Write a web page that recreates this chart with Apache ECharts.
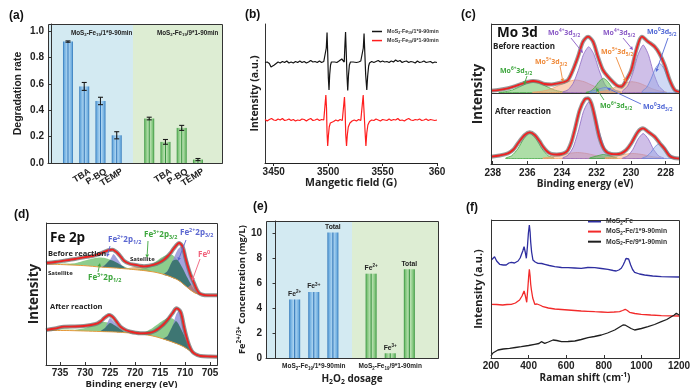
<!DOCTYPE html>
<html><head><meta charset="utf-8">
<script src="https://cdn.jsdelivr.net/npm/echarts@6/dist/echarts.min.js"></script>
<style>html,body{margin:0;padding:0;background:#fff}#c{width:697px;height:388px}</style>
</head><body><div id="c"></div>
<script>
// ================= DATA =================
// (a) degradation rate
const aBlueX = [1, 2, 3, 4];
const aBlueVal = [0.92, 0.58, 0.47, 0.21];
const aBlueErr = [0.005, 0.03, 0.028, 0.027];
const aGreenX = [6, 7, 8, 9];
const aGreenVal = [0.337, 0.16, 0.266, 0.026];
const aGreenErr = [0.01, 0.018, 0.019, 0.008];
const aTickPos = [2, 3, 4, 7, 8, 9];
const aTickLabels = ['TBA', 'P-BQ', 'TEMP', 'TBA', 'P-BQ', 'TEMP'];
const aYTicks = [0, 0.2, 0.4, 0.6, 0.8, 1.0];
const aGroupText = ['MoS_{2}-Fe_{19}/1*9-90min', 'MoS_{2}-Fe_{19}/9*1-90min'];

// (b) EPR spectra [field G, intensity a.u.]
const bBlack = [[3442,100.5],[3444,101],[3446,99.5],[3447.5,96],[3449,95.5],[3450.5,98],[3452,100],[3454,101],[3456,100],[3458,101.5],[3460,100.5],[3462,102],[3464,100],[3466,101],[3468,100],[3470,101.5],[3472,100.5],[3474,102],[3476,100.5],[3478,101.5],[3480,100],[3482,101],[3484,102.5],[3486,101],[3488,101.5],[3490,100.5],[3492,102],[3494,100.5],[3496,101.5],[3497.5,101],[3498.3,115],[3499,130.5],[3499.6,110],[3500.2,85],[3500.8,73],[3501.4,88],[3502.2,98],[3503,101],[3504.5,99.5],[3506,101],[3508,100.5],[3510,102],[3511.5,101],[3512.5,104],[3513.5,102],[3514.8,101],[3515.4,118],[3516,131],[3516.6,112],[3517.3,88],[3518,72.5],[3518.7,88],[3519.5,98],[3520.5,101],[3522,103],[3523,101],[3524.5,102],[3526,100.5],[3528,101],[3530,102],[3531.5,101],[3532.3,115],[3533,129.5],[3533.7,110],[3534.5,88],[3535.5,73],[3536.3,87],[3537.2,97],[3538,100],[3540,101.5],[3542,100.5],[3544,101.5],[3546,102.5],[3548,101],[3550,102],[3552,101],[3554,101.5],[3556,100.5],[3558,102],[3560,101],[3562,103],[3564,101.5],[3566,102.5],[3568,100.5],[3570,101.5],[3572,102],[3574,100.5],[3576,101.5],[3578,101],[3580,100],[3582,102],[3584,100.5],[3586,101],[3588,102],[3590,100.5],[3592,101],[3594,101.5],[3596,100],[3598,101],[3600,100.5]];
const bRed = [[3442,43.5],[3444,42],[3446,43.5],[3448,44.5],[3450,43],[3452,42.5],[3454,44],[3456,43],[3458,44.5],[3460,42.5],[3462,43],[3464,44],[3466,42.5],[3468,43.5],[3470,42],[3472,43],[3474,42.5],[3476,44],[3478,43.5],[3480,42],[3482,43.5],[3484,44.5],[3486,42.5],[3488,43],[3490,44],[3492,42.5],[3494,43.5],[3496,43],[3497.3,45],[3497.9,68],[3498.5,55],[3499,30],[3499.6,17],[3500.3,28],[3501,36],[3502,40],[3503.5,42],[3505,41.5],[3507,43],[3509,42],[3511,43.5],[3513,42.5],[3514.4,43.5],[3515,66],[3515.6,52],[3516.2,28],[3516.9,17],[3517.6,28],[3518.5,36],[3520,40],[3522,42],[3524,43],[3526,42],[3528,43.5],[3530,42.5],[3531.6,44],[3532.2,68],[3532.8,55],[3533.4,54],[3534,30],[3534.7,17],[3535.5,30],[3536.5,38],[3538,41.5],[3540,43],[3542,42.5],[3544,44],[3546,43],[3548,42],[3550,43.5],[3552,43],[3554,42.5],[3556,44],[3558,42.5],[3560,43.5],[3562,43],[3564,44.5],[3566,42.5],[3568,43],[3570,42],[3572,43.5],[3574,44.5],[3576,43],[3578,42.5],[3580,43.5],[3582,43],[3584,44],[3586,42.5],[3588,43],[3590,44],[3592,42.5],[3594,43.5],[3596,43],[3598,42.5],[3600,43]];
const bTicks = [3450, 3500, 3550, 3600];
const bTickLabels = ['3450', '3500', '3550', '360'];
const bLegend = ['MoS_{2}-Fe_{19}/1*9-90min', 'MoS_{2}-Fe_{19}/9*1-90min'];

// (c) Mo 3d XPS [binding energy eV, intensity]
const cTicks = [238, 236, 234, 232, 230, 228];
const cDivider = 71;
const cBaseBefore = 71.5;
const cBaseAfter = 5.5;
const cBeforeRed = [[238.1,73.3],[237.6,74.2],[237.12,75.7],[236.7,77.8],[236.35,80],[236.0,82],[235.67,83],[235.35,82.2],[235.0,80],[234.6,79.5],[234.23,80.7],[233.9,82],[233.65,84],[233.36,94],[233.07,107.3],[232.78,122.3],[232.49,127.3],[232.2,122.3],[231.92,107.3],[231.63,94],[231.34,87.3],[230.86,79],[230.57,77.3],[230.28,84],[229.99,94],[229.7,114],[229.37,127.3],[229.03,122.5],[228.64,117.3],[228.35,110],[228.06,99],[227.77,84],[227.48,74],[227.23,72]];
const cAfterRed = [[238.1,7.3],[237.6,8.5],[237.12,10.7],[236.8,14.5],[236.54,20.7],[236.15,29],[235.86,31.7],[235.57,29],[235.3,23],[235.09,17.3],[234.85,12.5],[234.61,10],[234.3,9.5],[234.03,10],[233.8,11.5],[233.65,14],[233.45,22],[233.26,34],[232.97,54],[232.68,64.7],[232.49,65.7],[232.3,60.7],[232.1,47.3],[231.82,25.7],[231.53,14],[231.14,10],[230.85,9.8],[230.57,10.7],[230.28,14],[229.99,20.7],[229.6,32.3],[229.31,35.7],[229.02,32.3],[228.64,27.3],[228.35,21],[228.06,15],[227.77,8],[227.5,6],[227.23,5.5]];
const cG1b = [[237.65,71.6],[237.25,72.4],[236.85,74.1],[236.45,77.2],[236.05,80.5],[235.65,82],[235.25,80.5],[234.85,77.2],[234.45,74.1],[234.05,72.4],[233.65,71.6]];
const cO1b = [[235.7,71.8],[235.2,72.6],[234.7,74.6],[234.2,78.3],[233.7,82.2],[233.2,84],[232.7,82.2],[232.2,78.3],[231.7,74.6],[231.2,72.6],[230.7,71.8]];
const cP1b = [[233.95,72.0],[233.65,74.1],[233.35,80.6],[233.05,93.8],[232.75,109.7],[232.45,117.3],[232.15,109.7],[231.85,93.8],[231.55,80.6],[231.25,74.1],[230.95,72.0]];
const cG2b = [[232.6,71.7],[232.35,72.9],[232.1,76.6],[231.85,82.5],[231.6,85.7],[231.35,82.5],[231.1,76.6],[230.85,72.9],[230.6,71.7]];
const cB0b = [[232.4,72.2],[231.95,74.5],[231.5,76.5],[231.05,74.5],[230.6,72.2]];
const cO2b = [[231.95,72.0],[231.55,73.0],[231.15,75.0],[230.75,78.1],[230.35,81.0],[229.95,82.3],[229.55,81.0],[229.15,78.1],[228.75,75.0],[228.35,73.0],[227.95,72.0]];
const cP2b = [[230.5,72.9],[230.2,77.9],[229.9,91.0],[229.6,109.5],[229.3,119],[229.0,109.5],[228.7,91.0],[228.4,77.9],[228.1,72.9]];
const cB1b = [[229.35,72.8],[229.1,76.5],[228.85,84.9],[228.6,95.4],[228.35,100.7],[228.1,95.4],[227.85,84.9],[227.6,76.5],[227.35,72.8]];
const cG1a = [[237.25,6.0],[236.9,8.3],[236.55,15.1],[236.2,25.4],[235.85,31.0],[235.5,25.4],[235.15,15.1],[234.8,8.3],[234.45,6.0]];
const cO1a = [[235.1,6.0],[234.6,7.0],[234.1,8.7],[233.6,10.6],[233.1,11.5],[232.6,10.6],[232.1,8.7],[231.6,7.0],[231.1,6.0]];
const cP1a = [[233.95,6.1],[233.65,8.7],[233.35,16.7],[233.05,33.0],[232.75,52.7],[232.45,62],[232.15,52.7],[231.85,33.0],[231.55,16.7],[231.25,8.7],[230.95,6.1]];
const cG2a = [[232.4,6.0],[232.0,7.9],[231.6,9.5],[231.2,7.9],[230.8,6.0]];
const cO2a = [[231.5,6.2],[231.1,7.1],[230.7,8.55],[230.3,9.9],[229.9,10.5],[229.5,9.9],[229.1,8.55],[228.7,7.1],[228.3,6.2]];
const cP2a = [[230.5,5.9],[230.2,8.0],[229.9,14.5],[229.6,24.9],[229.3,30.5],[229.0,24.9],[228.7,14.5],[228.4,8.0],[228.1,5.9]];
const cB1a = [[229.35,6.0],[229.1,7.6],[228.85,11.8],[228.6,17.6],[228.35,20.5],[228.1,17.6],[227.85,11.8],[227.6,7.6],[227.35,6.0]];

// (d) Fe 2p XPS [eV, intensity] ; components [eV, top, bottom]
const dTicks = [735, 730, 725, 720, 715, 710, 705];
const dBeforeRed = [[737.8,102],[736,103],[734.2,104.3],[732,106],[730.2,107.7],[728.5,109],[727.5,110.3],[726.5,112.3],[725.9,113.7],[725.1,115],[724.5,115.3],[724,114],[723.5,112],[722.8,108],[722.2,104.3],[721.2,101.5],[720.2,100.3],[719.2,99.3],[718.2,98.7],[717.2,99.2],[716.2,100.3],[715.2,102.3],[714.2,105.3],[713.5,108.5],[712.9,112],[712.4,115.5],[711.9,118.7],[711.2,122],[710.5,118.7],[709.9,107],[709.4,98],[708.9,90.3],[708.2,82],[707.7,76],[707.2,72],[706.5,70.3],[705.5,69.7],[703.6,69.7]];
const dAfterRed = [[737.8,35],[736,36.5],[734.2,38.3],[732,38.5],[730.2,39],[728.8,40],[727.5,41.7],[726.8,43.8],[726.2,46.7],[725.6,49],[725.2,50],[724.7,49],[724.2,46.7],[723.5,42],[722.9,38.3],[721.9,35],[720.9,33.3],[719.9,32.2],[718.9,31.7],[717.9,31.8],[716.9,32.3],[716,34],[715.2,36.7],[714.3,40.5],[713.5,45],[712.5,51.7],[711.7,56.7],[710.9,53.3],[710.5,46],[710.2,38.3],[709.7,28],[709.2,20],[708.7,14.5],[708.2,11.7],[707.5,9.8],[706.9,9],[705,8.5],[703.6,8.3]];
const dBgBefore = [[737.8,101],[734,100.3],[730,99.3],[727,98],[724,97],[721,95.8],[718,94.3],[716,92.8],[714,90.3],[712,86.5],[711,83.7],[710,79.5],[709,75.3],[708,72],[707,70.5],[705,69.7],[703.6,69.7]];
const dBgAfter = [[737.8,34.5],[734,34.5],[730,34],[727,33.5],[724,33],[721,32],[718,30.5],[716,28.5],[714,25.5],[712,22],[711,20],[710,17.5],[709,14],[708,11],[707,9],[705,8.3],[703.6,8.3]];
const dSat1b = [[737.8,101,101],[736,102,100.7],[734,102.2,100.3],[732,101.2,99.9],[730.5,99.5,99.5]];
const dSat2b = [[722,96.2,96.2],[720,98,95.3],[718,97.5,94.3],[716.5,93.1,93.1]];
const dGLb = [[734,100.3,100.3],[732,101.8,99.9],[730,104.5,99.3],[728,107,98.5],[727,107.5,98],[726,107,97.7],[724.5,104.5,97.2],[723,100.5,96.6],[721.5,97,96],[720.5,95.5,95.5]];
const dPLb = [[727,98,98],[726,100,97.7],[725,105,97.4],[724.3,111,97.2],[723.5,106,96.9],[722.5,99,96.4],[721.5,96,96]];
const dDLb = [[726.5,97.8,97.8],[726,100,97.7],[725,105,97.4],[724.5,104.5,97.2],[723.5,102,96.9],[723,100.5,96.6],[722.5,99,96.4],[721.8,96.1,96.1]];
const dGRb = [[720,95.3,95.3],[718,97,94.3],[716.5,101,93.3],[715,106.5,91.8],[713.5,110.5,89.2],[712.5,110,87.3],[711.5,105,85.2],[710.5,97,81.6],[709.5,87,77.4],[708.5,78,73.5],[707.5,71,71]];
const dPRb = [[714.5,90,90],[713.5,94,89.2],[712.5,104,87.3],[711.5,115,85.2],[710.8,118.5,82.5],[710,114,79.5],[709.2,100,76.3],[708.5,86,73.5],[707.8,74,71.5],[707.3,70.8,70.8]];
const dDRb = [[714.5,90,90],[713.5,94,89.2],[712.5,104,87.3],[711.5,105,85.2],[710.5,97,81.6],[709.5,87,77.4],[708.5,78,73.5],[707.5,71,71]];
const dFe0b = [[709.5,77.4,77.4],[708.8,80,74.6],[708.2,79,72.5],[707.5,73,71],[707,70.5,70.5]];
const dSat1a = [[737.8,34.5,34.5],[736,36,34.5],[734,37.2,34.5],[732,35.5,34.2],[730.5,34.1,34.1]];
const dSat2a = [[722,32.3,32.3],[720,33.8,31.8],[718,32,30.5],[716.5,29,29]];
const dGLa = [[732,35,34.2],[730,37,34],[728,41,33.7],[726.5,43,33.4],[725,42,33.2],[724,39.5,33],[723,36,32.7],[722,33.5,32.3],[721,32,32]];
const dPLa = [[727,33.5,33.5],[726,37,33.3],[725,47,33.2],[724,42,33],[723,36,32.7],[722,32.3,32.3]];
const dDLa = [[727,33.5,33.5],[726,37,33.3],[725,42,33.2],[724,39.5,33],[723,36,32.7],[722,32.3,32.3]];
const dGRa = [[719.5,31.5,31.5],[718,33,30.5],[716.5,37,29],[715,42.5,27],[713.5,47,24.5],[712.5,46.5,22.8],[711.5,42,21],[710.5,33,18.8],[709.5,22,15.7],[708.5,13.5,12],[707.8,10.5,10.5]];
const dPRa = [[714.5,26.3,26.3],[713.5,29,24.5],[712.5,39,22.8],[711.8,50,21.4],[711.3,54,20.5],[710.5,47,18.8],[709.7,30,16.3],[709,19,14],[708.2,11,11]];
const dDRa = [[714.5,26.3,26.3],[713.5,29,24.5],[712.5,39,22.8],[711.8,44,21.4],[711.3,41,20.5],[710.5,33,18.8],[709.5,22,15.7],[708.5,13.5,12],[707.8,10.5,10.5]];

// (e) iron concentration
const eBlueX = [1, 2, 3];
const eBlueVal = [4.7, 5.3, 10.08];
const eGreenX = [5, 6, 7];
const eGreenVal = [6.77, 0.38, 7.12];
const eIon = ['Fe', 'Fe', 'Total'];
const eCharge = ['2+', '3+', ''];
const eYTicks = [0, 2, 4, 6, 8, 10];
const eGroupPos = [2, 6];
const eGroupText = ['MoS_{2}-Fe_{19}/1*9-90min', 'MoS_{2}-Fe_{19}/9*1-90min'];

// (f) Raman [cm-1, intensity]
const fBlue = [[202,98],[210,100],[219,101.3],[230,97],[246,93.7],[265,93],[281,93],[295,95],[308,95.7],[325,95],[344,97],[355,100],[361,103],[369,107],[376,111.3],[382,106],[388,99.7],[394,112],[399,125],[404,133],[408,126],[411,116.3],[416,106],[423,98],[435,96],[450,94.7],[470,94.5],[486,93.7],[510,92.5],[539,91.3],[575,90.5],[610,90.3],[645,90],[680,89.7],[715,90.5],[752,90.3],[787,89.5],[822,88.7],[850,87.5],[866,87],[880,88],[893,89.7],[903,93],[911,96.3],[918,99.5],[925,101.3],[932,99],[943,93],[953,88.5],[964,85.7],[990,84],[1017,83],[1060,82],[1106,81.3],[1150,81.2],[1200,81]];
const fRed = [[202,53.7],[230,53.5],[262,53],[285,53.5],[308,53.7],[330,55],[352,58],[365,62],[376,67],[383,62],[390,55.7],[396,70],[401,83],[404,88.7],[408,82],[411,74],[415,68],[422,60],[433,53.7],[445,54],[454,54.7],[465,52.5],[477,51.3],[505,50],[539,49],[575,48.5],[610,48],[645,47.5],[680,47],[715,46.7],[752,46.3],[787,46],[822,45.7],[855,46],[884,46.3],[900,47.5],[914,48.7],[925,47.5],[937,45.7],[965,44.5],[999,43.7],[1050,43],[1106,42.3],[1150,42.2],[1200,42]];
const fBlack = [[200,2],[210,5],[237,8],[265,9],[299,9.7],[330,10.5],[361,11.3],[400,12.5],[432,13.7],[455,14.5],[468,16.3],[472,18],[476,15],[486,14.7],[505,16],[530,18],[550,17.5],[575,16.3],[610,16.5],[646,17],[680,18.5],[716,20.3],[750,21.5],[787,23],[820,25],[858,28],[880,30.5],[902,33],[915,32.8],[929,31.3],[945,29.5],[964,28],[1000,29.5],[1035,31.3],[1070,33.5],[1106,36.3],[1135,38.5],[1159,41.3],[1175,43],[1186,44.7],[1200,43]];
const fLegend = ['MoS_{2}-Fe', 'MoS_{2}-Fe/1*9-90min', 'MoS_{2}-Fe/9*1-90min'];

// ================= HELPERS =================
const F1 = '"Liberation Sans", Arial, sans-serif';
const F2 = '"Open Sans", "Liberation Sans", sans-serif';
function rt(s) {
  let out = '', last = 0, m; const re = /(_|\^)\{([^}]*)\}/g;
  while ((m = re.exec(s))) {
    if (m.index > last) out += '{a|' + s.slice(last, m.index) + '}';
    out += (m[1] === '_' ? '{s|' : '{p|') + m[2] + '}';
    last = re.lastIndex;
  }
  if (last < s.length) out += '{a|' + s.slice(last) + '}';
  return out;
}
function rich(size, color, fam) {
  fam = fam || F1;
  const b = {fontWeight: 'bold', fontFamily: fam, color: color, fill: color};
  return {
    a: Object.assign({fontSize: size, lineHeight: size * 1.35}, b),
    s: Object.assign({fontSize: size * 0.68, verticalAlign: 'bottom', lineHeight: size * 1.35}, b),
    p: Object.assign({fontSize: size * 0.68, verticalAlign: 'top', lineHeight: size * 1.35}, b)
  };
}
function poly(gi, pts, fill, stroke, z) {
  return {type: 'custom', xAxisIndex: gi, yAxisIndex: gi, silent: true, z: z || 2, data: pts,
    renderItem: function (params, api) {
      if (params.dataIndex !== 0) return null;
      const top = pts.map(p => api.coord([p[0], p[1]]));
      const bot = pts.slice().reverse().map(p => api.coord([p[0], p[2]]));
      return {type: 'polygon', shape: {points: top.concat(bot), smooth: 0.2},
        style: {fill: fill, stroke: stroke || 'none', lineWidth: 0.8}};
    }};
}
function withBase(arr, b) { return arr.map(p => [p[0], p[1], b]); }
function ln(gi, name, data, color, width, smooth, z, extra) {
  return Object.assign({type: 'line', name: name, xAxisIndex: gi, yAxisIndex: gi, data: data,
    symbol: 'none', showSymbol: false, smooth: smooth || false, z: z || 4, silent: true,
    lineStyle: {color: color, width: width}, itemStyle: {color: color}}, extra || {});
}
function bgRects(gi, ranges, colors, ymax) {
  return {type: 'custom', xAxisIndex: gi, yAxisIndex: gi, silent: true, z: 0, data: ranges,
    renderItem: function (params, api) {
      const p0 = api.coord([api.value(0), 0]);
      const p1 = api.coord([api.value(1), ymax]);
      return {type: 'rect', shape: {x: p0[0], y: p1[1], width: p1[0] - p0[0], height: p0[1] - p1[1]},
        style: {fill: colors[params.dataIndex]}};
    }};
}
function grad(c1, c2, c3) {
  return new echarts.graphic.LinearGradient(0, 0, 1, 0, [
    {offset: 0, color: c1}, {offset: 0.14, color: c2}, {offset: 0.4, color: c3},
    {offset: 0.5, color: c1}, {offset: 0.6, color: c3}, {offset: 0.86, color: c2}, {offset: 1, color: c1}]);
}
const BLUEBAR = grad('#2f75b8', '#6faee0', '#a9d2f0');
const GREENBAR = grad('#36923d', '#7cc377', '#b8e0b0');
const BGBLUE = '#d3eaf2', BGGREEN = '#ddedd3';

const axTxt = (sz) => ({fontFamily: F1, fontWeight: 'bold', color: '#222', fontSize: sz});
const nameTxt = (sz, fam) => ({fontFamily: fam || F2, fontWeight: 'bold', color: '#222', fontSize: sz});
const hideY = {axisLabel: {show: false}, axisTick: {show: false}, splitLine: {show: false},
  axisLine: {show: true, lineStyle: {color: '#333'}}};

// ================= LAYOUT =================
const G = [
  {left: 48, top: 24, width: 174, height: 139},
  {left: 265, top: 24, width: 172, height: 139},
  {left: 491, top: 24, width: 188, height: 140},
  {left: 46, top: 223, width: 171, height: 142},
  {left: 266, top: 221, width: 172, height: 137},
  {left: 491, top: 220, width: 188, height: 138}
];
const aXMin = -0.23, aXMax = 10.48, aSplit = 5, aYMax = 1.053;
const eXMin = -0.5, eXMax = 8.5, eSplit = 4, eYMax = 11;
const keepAll = {hideOverlap: false, showMinLabel: true, showMaxLabel: true};

const xAxis = [
  {gridIndex: 0, type: 'value', min: aXMin, max: aXMax, splitLine: {show: false},
    axisLine: {show: true, lineStyle: {color: '#333'}}, axisTick: {show: false}, axisLabel: {show: false}},
  {gridIndex: 1, type: 'value', min: 3442, max: 3600, splitLine: {show: false},
    axisLine: {show: true, lineStyle: {color: '#222'}},
    axisTick: {show: true, customValues: bTicks, length: 3, lineStyle: {color: '#222'}},
    axisLabel: Object.assign(axTxt(10), keepAll, {customValues: bTicks, margin: 4,
      formatter: v => bTickLabels[bTicks.indexOf(v)]}),
    name: 'Mangetic field (G)', nameLocation: 'middle', nameGap: 15, nameTextStyle: nameTxt(10.5)},
  {gridIndex: 2, type: 'value', inverse: true, min: 227.23, max: 238.1, splitLine: {show: false},
    axisLine: {show: true, lineStyle: {color: '#333'}},
    axisTick: {show: true, customValues: cTicks, length: 3, inside: true},
    axisLabel: Object.assign(axTxt(10), keepAll, {customValues: cTicks, margin: 4}),
    name: 'Binding energy (eV)', nameLocation: 'middle', nameGap: 15, nameTextStyle: nameTxt(10)},
  {gridIndex: 3, type: 'value', inverse: true, min: 703.6, max: 737.8, splitLine: {show: false},
    axisLine: {show: true, lineStyle: {color: '#333'}},
    axisTick: {show: true, customValues: dTicks, length: 3, inside: true},
    axisLabel: Object.assign(axTxt(10), keepAll, {customValues: dTicks, margin: 3}),
    name: 'Binding energy (eV)', nameLocation: 'middle', nameGap: 8, nameTextStyle: nameTxt(9.5)},
  {gridIndex: 4, type: 'value', min: eXMin, max: eXMax, splitLine: {show: false},
    axisLine: {show: true, lineStyle: {color: '#333'}}, axisTick: {show: false},
    axisLabel: Object.assign({customValues: eGroupPos, margin: 4, rich: rich(6.5, '#222'),
      formatter: v => rt(eGroupText[eGroupPos.indexOf(v)])}, keepAll),
    name: rt('H_{2}O_{2} dosage'), nameLocation: 'middle', nameGap: 14,
    nameTextStyle: {rich: rich(10, '#222', F2)}},
  {gridIndex: 5, type: 'value', min: 200, max: 1200, interval: 200, splitLine: {show: false},
    axisLine: {show: true, lineStyle: {color: '#333'}},
    axisTick: {show: true, length: 3, inside: true},
    axisLabel: Object.assign(axTxt(10), keepAll, {margin: 3, formatter: v => String(v)}),
    name: rt('Raman shift (cm^{-1})'), nameLocation: 'middle', nameGap: 13,
    nameTextStyle: {rich: rich(10, '#222', F2)}}
];
const yAxis = [
  {gridIndex: 0, type: 'value', min: 0, max: aYMax, splitLine: {show: false},
    axisLine: {show: true, lineStyle: {color: '#333'}},
    axisTick: {show: true, customValues: aYTicks, length: 3, lineStyle: {color: '#333'}},
    axisLabel: Object.assign(axTxt(10), {customValues: aYTicks, margin: 4, formatter: v => v.toFixed(1)}),
    name: 'Degradation rate', nameLocation: 'middle', nameGap: 24, nameTextStyle: nameTxt(10.5, F1)},
  Object.assign({gridIndex: 1, type: 'value', min: 0, max: 139,
    name: 'Intensity (a.u.)', nameLocation: 'middle', nameGap: 4, nameTextStyle: nameTxt(10.5)}, hideY),
  Object.assign({gridIndex: 2, type: 'value', min: 0, max: 140,
    name: 'Intensity', nameLocation: 'middle', nameGap: 6, nameTextStyle: nameTxt(13.5)}, hideY),
  Object.assign({gridIndex: 3, type: 'value', min: 0, max: 142,
    name: 'Intensity', nameLocation: 'middle', nameGap: 5, nameTextStyle: nameTxt(13.5)}, hideY),
  {gridIndex: 4, type: 'value', min: 0, max: eYMax, splitLine: {show: false},
    axisLine: {show: true, lineStyle: {color: '#333'}},
    axisTick: {show: true, customValues: eYTicks, length: 3, lineStyle: {color: '#333'}},
    axisLabel: Object.assign(axTxt(10), {customValues: eYTicks, margin: 4}),
    name: rt('Fe^{2+/3+} Concentration (mg/L)'), nameLocation: 'middle', nameGap: 17,
    nameTextStyle: {rich: rich(9.3, '#222', F2)}},
  Object.assign({gridIndex: 5, type: 'value', min: 0, max: 138,
    name: 'Intensity (a.u.)', nameLocation: 'middle', nameGap: 7, nameTextStyle: nameTxt(11)}, hideY)
];

// ================= SERIES =================
const series = [];
// (a)
series.push(bgRects(0, [[aXMin, aSplit], [aSplit, aXMax]], [BGBLUE, BGGREEN], aYMax));
series.push({type: 'bar', xAxisIndex: 0, yAxisIndex: 0, barWidth: 10, barGap: '-100%', z: 2, silent: true,
  data: aBlueX.map((x, i) => [x, aBlueVal[i]]), itemStyle: {color: BLUEBAR}});
series.push({type: 'bar', xAxisIndex: 0, yAxisIndex: 0, barWidth: 10, barGap: '-100%', z: 2, silent: true,
  data: aGreenX.map((x, i) => [x, aGreenVal[i]]), itemStyle: {color: GREENBAR}});
const aErrData = aBlueX.map((x, i) => [x, aBlueVal[i] - aBlueErr[i], aBlueVal[i] + aBlueErr[i]])
  .concat(aGreenX.map((x, i) => [x, aGreenVal[i] - aGreenErr[i], aGreenVal[i] + aGreenErr[i]]));
series.push({type: 'custom', xAxisIndex: 0, yAxisIndex: 0, z: 5, silent: true, data: aErrData,
  renderItem: function (params, api) {
    const lo = api.coord([api.value(0), api.value(1)]);
    const hi = api.coord([api.value(0), api.value(2)]);
    const st = {stroke: '#1a1a1a', lineWidth: 1.1};
    return {type: 'group', children: [
      {type: 'line', shape: {x1: lo[0], y1: lo[1], x2: hi[0], y2: hi[1]}, style: st},
      {type: 'line', shape: {x1: lo[0] - 2.5, y1: lo[1], x2: lo[0] + 2.5, y2: lo[1]}, style: st},
      {type: 'line', shape: {x1: hi[0] - 2.5, y1: hi[1], x2: hi[0] + 2.5, y2: hi[1]}, style: st}]};
  }});
// (a) rotated category labels placed at the axis positions
series.push({type: 'custom', xAxisIndex: 0, yAxisIndex: 0, z: 6, silent: true, clip: false,
  data: aTickPos.map((x, i) => [x, 0, i]),
  renderItem: function (params, api) {
    const p = api.coord([api.value(0), 0]);
    return {type: 'text', x: p[0] + 3, y: p[1] + 4, rotation: 32 * Math.PI / 180,
      style: {text: aTickLabels[params.dataIndex], align: 'right', verticalAlign: 'top',
        fontSize: 9, fontWeight: 'bold', fontFamily: F1, fill: '#222'}};
  }});
// (b)
series.push(ln(1, 'b1', bBlack, '#151515', 1.2, false, 4));
series.push(ln(1, 'b2', bRed, '#ff1d1d', 1.2, false, 4));
// (c)
const CG = ['rgba(105,195,95,0.55)', '#45a845'];
const CO = ['rgba(248,168,118,0.5)', '#f3a06c'];
const CP = ['rgba(168,138,214,0.55)', '#8d68c4'];
const CB = ['rgba(150,170,232,0.45)', '#6c86da'];
[[cG1b, CG], [cO1b, CO], [cP1b, CP], [cG2b, CG], [cB0b, CB], [cO2b, CO], [cP2b, CP], [cB1b, CB]]
  .forEach(c => series.push(poly(2, withBase(c[0], cBaseBefore), c[1][0], c[1][1])));
[[cG1a, CG], [cO1a, CO], [cP1a, CP], [cG2a, CG], [cO2a, CO], [cP2a, CP], [cB1a, CB]]
  .forEach(c => series.push(poly(2, withBase(c[0], cBaseAfter), c[1][0], c[1][1])));
series.push(ln(2, 'cgb', cBeforeRed, 'rgba(120,120,120,0.75)', 4, 0.3, 3,
  {markLine: {symbol: 'none', silent: true, label: {show: false},
    lineStyle: {color: '#333', width: 1, type: 'solid'}, data: [{yAxis: cDivider}]}}));
series.push(ln(2, 'cga', cAfterRed, 'rgba(120,120,120,0.75)', 4, 0.3, 3));
series.push(ln(2, 'crb', cBeforeRed, '#ee2222', 1.8, 0.3, 4));
series.push(ln(2, 'cra', cAfterRed, '#ee2222', 1.8, 0.3, 4));
// (d)
const DG = 'rgba(112,192,112,0.8)', DP = 'rgba(140,140,214,0.8)', DD = 'rgba(48,112,100,0.85)';
const DS1 = 'rgba(196,222,170,0.7)', DS2 = 'rgba(214,150,70,0.65)', DF = 'rgba(242,130,140,0.6)';
[[dSat1b, DS1], [dSat2b, DS2], [dGLb, DG], [dPLb, DP], [dDLb, DD], [dGRb, DG], [dPRb, DP], [dDRb, DD], [dFe0b, DF],
 [dSat1a, DS1], [dSat2a, DS2], [dGLa, DG], [dPLa, DP], [dDLa, DD], [dGRa, DG], [dPRa, DP], [dDRa, DD]]
  .forEach(c => series.push(poly(3, c[0], c[1])));
series.push(ln(3, 'dbb', dBgBefore, '#e59a3c', 1, 0.2, 3));
series.push(ln(3, 'dba', dBgAfter, '#e59a3c', 1, 0.2, 3));
series.push(ln(3, 'dgb', dBeforeRed, 'rgba(110,110,110,0.75)', 4, 0.3, 3));
series.push(ln(3, 'dga', dAfterRed, 'rgba(110,110,110,0.75)', 4, 0.3, 3));
series.push(ln(3, 'drb', dBeforeRed, '#ee2222', 1.8, 0.3, 4));
series.push(ln(3, 'dra', dAfterRed, '#ee2222', 1.8, 0.3, 4));
// (e)
series.push(bgRects(4, [[eXMin, eSplit], [eSplit, eXMax]], [BGBLUE, BGGREEN], eYMax));
const eLabel = (p) => eCharge[p.dataIndex] ? '{a|' + eIon[p.dataIndex] + '}{p|' + eCharge[p.dataIndex] + '}' : '{a|' + eIon[p.dataIndex] + '}';
series.push({type: 'bar', xAxisIndex: 4, yAxisIndex: 4, barWidth: 11, barGap: '-100%', z: 2, silent: true,
  data: eBlueX.map((x, i) => [x, eBlueVal[i]]), itemStyle: {color: BLUEBAR},
  label: {show: true, position: 'top', distance: 1, formatter: eLabel, rich: rich(6.8, '#222')}});
series.push({type: 'bar', xAxisIndex: 4, yAxisIndex: 4, barWidth: 11, barGap: '-100%', z: 2, silent: true,
  data: eGreenX.map((x, i) => [x, eGreenVal[i]]), itemStyle: {color: GREENBAR},
  label: {show: true, position: 'top', distance: 1, formatter: eLabel, rich: rich(6.8, '#222')}});
// (f)
series.push(ln(5, 'f1', fBlue, '#2e2ea0', 1.3, false, 4));
series.push(ln(5, 'f2', fRed, '#f22a2a', 1.3, false, 4));
series.push(ln(5, 'f3', fBlack, '#1e1e1e', 1.3, false, 4));

// ================= ANNOTATIONS =================
const gC = '#3da63d', oC = '#ef8a3a', pC = '#8a5ac6', bC = '#5168d6', pkC = '#f0607a', dbC = '#5a66d0';
const els = [];
function txt(s, x, y, color, size, fam) {
  els.push({type: 'text', x: x, y: y, z: 120, silent: true,
    style: {text: rt(s), rich: rich(size, color, fam || F2), fill: color, verticalAlign: 'middle', align: 'left'}});
}
function arrow(x1, y1, x2, y2, color) {
  const a = Math.atan2(y2 - y1, x2 - x1), L = 3.5, W = 1.8;
  const bx = x2 - L * Math.cos(a), by = y2 - L * Math.sin(a);
  els.push({type: 'line', z: 119, silent: true, shape: {x1: x1, y1: y1, x2: bx, y2: by}, style: {stroke: color, lineWidth: 0.9}});
  els.push({type: 'polygon', z: 119, silent: true, shape: {points: [[x2, y2],
    [bx - W * Math.sin(a), by + W * Math.cos(a)], [bx + W * Math.sin(a), by - W * Math.cos(a)]]}, style: {fill: color}});
}
function frame(g) {
  els.push({type: 'rect', z: 110, silent: true, shape: {x: g.left + 0.5, y: g.top + 0.5, width: g.width, height: g.height},
    style: {fill: 'none', stroke: '#333', lineWidth: 1}});
}
[0, 2, 3, 4, 5].forEach(i => frame(G[i]));
// panel letters
txt('(a)', 9, 16, '#111', 12, F1); txt('(b)', 245, 15, '#111', 12, F1); txt('(c)', 461, 15, '#111', 12, F1);
txt('(d)', 14, 215, '#111', 12, F1); txt('(e)', 253, 207, '#111', 12, F1); txt('(f)', 466, 208, '#111', 12, F1);
// (a) group names
txt(aGroupText[0], 71, 33, '#222', 6.3, F1); txt(aGroupText[1], 157, 33, '#222', 6.3, F1);
// (c)
txt('Mo 3d', 497, 33, '#111', 13.5); txt('Before reaction', 493, 47, '#222', 8);
txt('After reaction', 495, 112, '#222', 8);
txt('Mo^{6+}3d_{3/2}', 500, 71, gC, 7); txt('Mo^{5+}3d_{3/2}', 535, 62, oC, 7);
txt('Mo^{4+}3d_{3/2}', 548, 33, pC, 7); txt('Mo^{4+}3d_{5/2}', 603, 33, pC, 7);
txt('Mo^{5+}3d_{5/2}', 601, 52, oC, 7); txt('Mo^{0}3d_{5/2}', 647, 32, bC, 7);
txt('Mo^{6+}3d_{5/2}', 600, 106, gC, 7); txt('Mo^{0}3d_{3/2}', 643, 107, bC, 7);
arrow(527, 76, 524, 85, gC); arrow(560, 66, 563, 82, oC); arrow(571, 38, 583, 53, pC);
arrow(623, 38, 633, 50, pC); arrow(616, 57, 626, 82, oC); arrow(668, 38, 656, 72, bC);
arrow(604, 100, 596, 88, gC); arrow(641, 104, 607, 88, bC);
// (d)
txt('Fe 2p', 50, 238, '#111', 13.5); txt('Before reaction', 48, 254, '#222', 7.5);
txt('After reaction', 50, 307, '#222', 7.5);
txt('Satellite', 48, 273, '#222', 6); txt('Satellite', 130, 259, '#222', 6);
txt('Fe^{2+}2p_{1/2}', 108, 240, dbC, 8); txt('Fe^{3+}2p_{3/2}', 144, 235, gC, 8);
txt('Fe^{2+}2p_{3/2}', 180, 233, dbC, 8); txt('Fe^{0}', 198, 255, pkC, 8);
txt('Fe^{3+}2p_{1/2}', 88, 278, gC, 8);
arrow(110, 246, 107, 257, dbC); arrow(148, 241, 147, 258, gC); arrow(186, 240, 178, 261, dbC);
arrow(200, 259, 192, 281, pkC); arrow(98, 272, 100, 263, gC);

const option = {
  animation: false, backgroundColor: '#fff',
  grid: G.map(g => Object.assign({show: false, containLabel: false, outerBoundsMode: 'none'}, g)),
  xAxis: xAxis, yAxis: yAxis,
  legend: [
    {data: ['b1', 'b2'], left: 372, top: 29, orient: 'vertical', padding: 0, itemGap: 3,
      icon: 'rect', itemWidth: 10, itemHeight: 1.5, selectedMode: false,
      formatter: n => rt(bLegend[['b1', 'b2'].indexOf(n)]), textStyle: {rich: rich(5.3, '#333')}},
    {data: ['f1', 'f2', 'f3'], left: 588, top: 218, orient: 'vertical', padding: 0, itemGap: 2,
      icon: 'rect', itemWidth: 13, itemHeight: 2, selectedMode: false,
      formatter: n => rt(fLegend[['f1', 'f2', 'f3'].indexOf(n)]), textStyle: {rich: rich(6.8, '#333')}}
  ],
  series: series,
  graphic: {elements: els}
};
const chart = echarts.init(document.getElementById('c'), null, {renderer: 'canvas'});
chart.setOption(option);
</script></body></html>
